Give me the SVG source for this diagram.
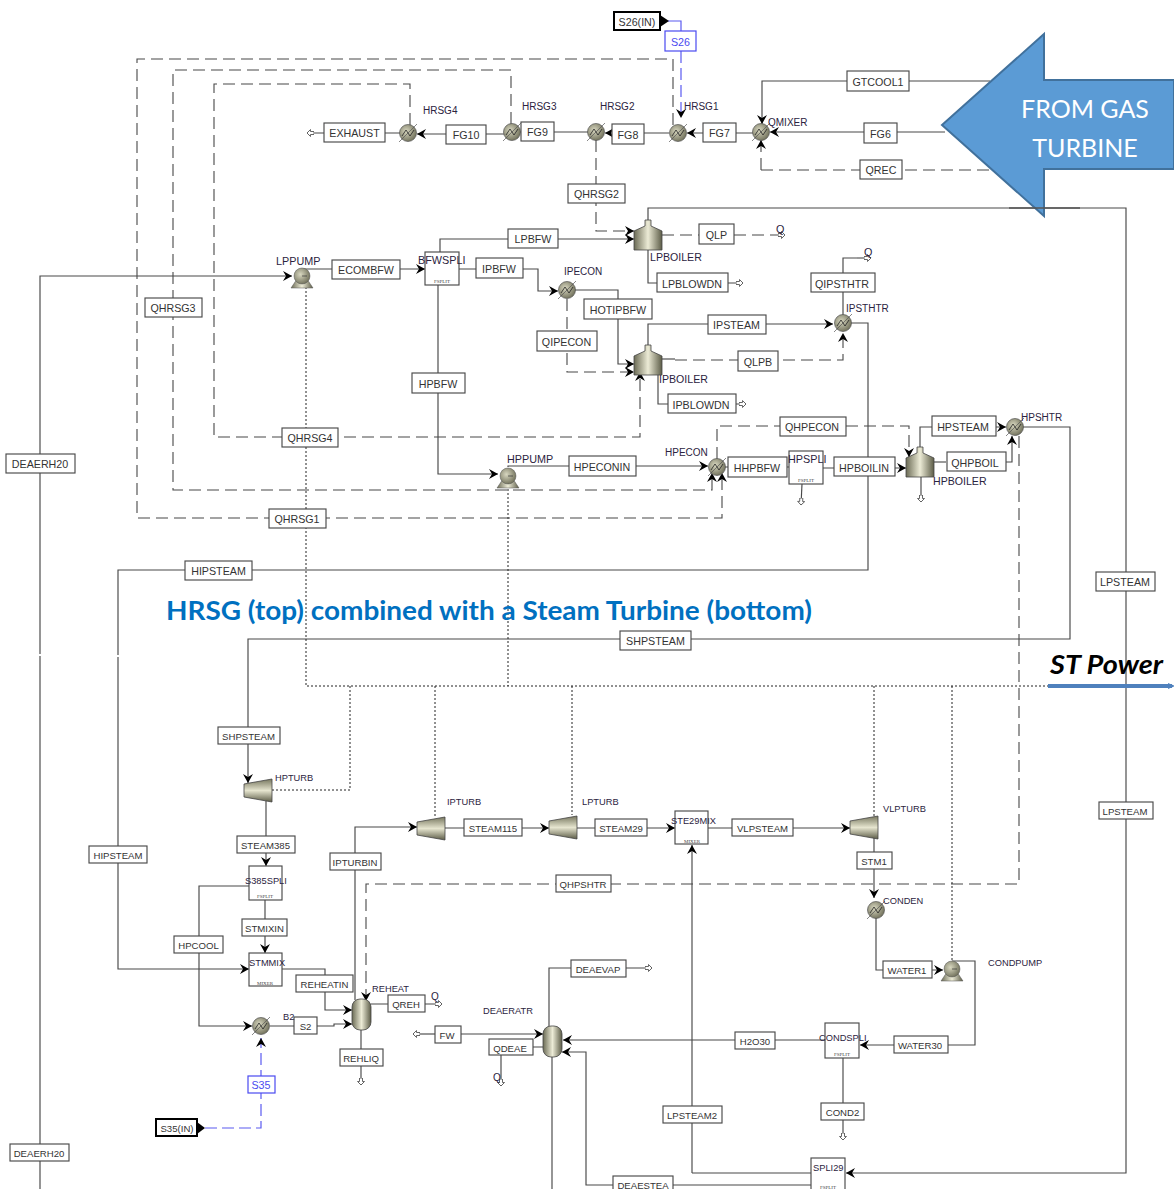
<svg xmlns="http://www.w3.org/2000/svg" width="1174" height="1189" viewBox="0 0 1174 1189">
<style>
.s{fill:none;stroke:#484848;stroke-width:1.15}
.h{fill:none;stroke:#484848;stroke-width:1.1;stroke-dasharray:12 6}
.w{fill:none;stroke:#222;stroke-width:1;stroke-dasharray:2 2}
.bl{fill:none;stroke:#5a5af0;stroke-width:1.2;stroke-dasharray:12 5}
.b{fill:#fff;stroke:#4a4a4a;stroke-width:1.15}
.k{fill:#fff;stroke:#000;stroke-width:2}
.bb{fill:#fff;stroke:#4a4af0;stroke-width:1.2}
.t{font:10.7px "Liberation Sans",Arial,sans-serif;fill:#333;text-anchor:middle}
.z{font-size:9.6px}
.tb{font:10.7px "Liberation Sans",Arial,sans-serif;fill:#4a4af0;text-anchor:middle}
.l{font:10.8px "Liberation Sans",Arial,sans-serif;fill:#2b2340}
.sm{font:10px "Liberation Sans",Arial,sans-serif;fill:#2b2340}
.m{font-size:10.6px}
.y{font-size:9.3px}
.f{font:5px "Liberation Serif",serif;fill:#444;text-anchor:middle}
.big{font:25px Lato,'Open Sans',sans-serif;fill:#fff;text-anchor:middle}
</style>
<defs>
<linearGradient id="g" x1="0" x2="1" y1="0" y2="0"><stop offset="0" stop-color="#6b6b55"/><stop offset=".5" stop-color="#ecebd6"/><stop offset="1" stop-color="#5d5d48"/></linearGradient>
<linearGradient id="gv" x1="0" x2="0" y1="0" y2="1"><stop offset="0" stop-color="#77775f"/><stop offset=".5" stop-color="#e6e5cf"/><stop offset="1" stop-color="#5d5d48"/></linearGradient>
<radialGradient id="gr" cx=".4" cy=".4" r=".7"><stop offset="0" stop-color="#d8d7c0"/><stop offset="1" stop-color="#666650"/></radialGradient>
<marker id="ar" markerUnits="userSpaceOnUse" markerWidth="12" markerHeight="12" refX="9" refY="5" orient="auto"><path d="M0,0 L9,5 L0,10 L3,5 Z" fill="#000"/></marker>
<marker id="out" markerUnits="userSpaceOnUse" markerWidth="10" markerHeight="10" refX="7" refY="4" orient="auto"><path d="M0,2.5 H3.5 V.5 L7,4 L3.5,7.5 V5.5 H0 Z" fill="#fff" stroke="#555" stroke-width=".9"/></marker>
<marker id="bar" markerUnits="userSpaceOnUse" markerWidth="8" markerHeight="8" refX="4" refY="4" orient="auto"><path d="M0,1 L7,4 L0,7 Z" fill="#4f81bd"/></marker>
<g id="heater"><circle r="8.5" fill="url(#gr)" stroke="#555" stroke-width=".7"/><path d="M-9,9 L9,-9" stroke="#555" stroke-width=".7"/><path d="M-6,3 L-2,-3 L2,3 L6,-3" fill="none" stroke="#222" stroke-width=".8"/></g>
<g id="pump"><path d="M-11,11 L11,11 L5,2 H-5 Z" fill="url(#g)" stroke="#555" stroke-width=".5"/><circle r="8" cy="-1" fill="url(#gr)" stroke="#555" stroke-width=".5"/><path d="M0,-1 H5" stroke="#333" stroke-width=".7"/></g>
<g id="boiler"><path d="M-14,27 V8 L-3,3 V-3 H3 V3 L14,8 V27 Z" fill="url(#g)" stroke="#444" stroke-width=".8"/></g>
<g id="turbine"><path d="M0,5 L28,0 V23 L0,18 Z" fill="url(#gv)" stroke="#444" stroke-width=".8"/></g>
<g id="flash"><rect x="-9.500" width="19" height="31" rx="8" fill="url(#g)" stroke="#444" stroke-width=".8"/></g>
</defs>
<rect width="1174" height="1189" fill="#fff"/>
<g id="connectors">
<path class="bl" d="M681,51 V118" marker-end="url(#ar)"/>
<path d="M668,21 H681 V31" fill="none" stroke="#5a5af0" stroke-width="1.200"/>
<path class="h" d="M673,125 V59 H137 V518 H722 V473" marker-end="url(#ar)"/>
<path class="h" d="M511,124 V70 H173 V490 H712 V473" marker-end="url(#ar)"/>
<path class="h" d="M410,125 V84 H214 V437 H640 V372" marker-end="url(#ar)"/>
<path class="h" d="M596,140 V231 H634" marker-end="url(#ar)"/>
<path class="h" d="M761,170 H990 M761,170 V140" marker-end="url(#ar)"/>
<path class="s" d="M990,81 H762 V124" marker-end="url(#ar)"/>
<path class="s" d="M945,132 H770" marker-end="url(#ar)"/>
<path class="s" d="M753,133 H687" marker-end="url(#ar)"/>
<path class="s" d="M669,133 H605" marker-end="url(#ar)"/>
<path class="s" d="M588,132 H520"/>
<path class="s" d="M504,134 H417" marker-end="url(#ar)"/>
<path class="s" d="M400,133 H307" marker-end="url(#out)"/>
<path class="s" d="M440,252 V239 H634" marker-end="url(#ar)"/>
<path class="s" d="M648,220 V208 H1126 V1173 H846" marker-end="url(#ar)"/>
<path class="h" d="M662,235 H785" marker-end="url(#out)"/>
<path class="s" d="M648,247 V283 H743" marker-end="url(#out)"/>
<path class="s" d="M40,1189 V656 M40,654 V276 H292" marker-end="url(#ar)"/>
<path class="s" d="M303,269 H332 M400,269 H425" marker-end="url(#ar)"/>
<path class="s" d="M459,269 H538 V291 H558" marker-end="url(#ar)"/>
<path class="s" d="M575,290 H618 V364 H634" marker-end="url(#ar)"/>
<path class="h" d="M567,299 V372 H634" marker-end="url(#ar)"/>
<path class="s" d="M648,345 V324 H833" marker-end="url(#ar)"/>
<path class="h" d="M675,360 H843 V333" marker-end="url(#ar)"/>
<path class="s" d="M662,359 H675"/>
<path class="s" d="M658,372 V404 H746" marker-end="url(#out)"/>
<path class="s" d="M851,323 H868 V570 H118 V655 M118,657 V969 H249" marker-end="url(#ar)"/>
<path class="s" d="M843,315 V258 H857"/>
<path class="h" d="M857,258 H871" marker-end="url(#out)"/>
<path class="s" d="M438,285 V474 H498" marker-end="url(#ar)"/>
<path class="s" d="M508,467 V466 H708" marker-end="url(#ar)"/>
<path class="s" d="M725,467 H789 M823,468 H906" marker-end="url(#ar)"/>
<path class="s" d="M802,484 L801,505" marker-end="url(#out)"/>
<path class="s" d="M921,477 V502" marker-end="url(#out)"/>
<path class="s" d="M920,448 V427 H1006" marker-end="url(#ar)"/>
<path class="h" d="M934,462 H947"/>
<path class="s" d="M1006,462 H1012 V436" marker-end="url(#ar)"/>
<path class="h" d="M717,459 V426 H909 V457" marker-end="url(#ar)"/>
<path class="s" d="M1023,427 H1070 V639 H248 V783" marker-end="url(#ar)"/>
<path class="h" d="M1019,436 V884 H366 V1001" marker-end="url(#ar)"/>
<path class="w" d="M306,287 V686 H1048 M272,790 H350 V686 M435,686 V817 M572,686 V815 M508,489 V686 M874,686 V816 M952,686 V961"/>
<path class="s" d="M266,801 V866" marker-end="url(#ar)"/>
<path class="s" d="M249,886 H199 V1026 H252" marker-end="url(#ar)"/>
<path class="s" d="M265,900 V953" marker-end="url(#ar)"/>
<path class="s" d="M282,969 H325 V1010 H352" marker-end="url(#ar)"/>
<path class="s" d="M270,1026 H334 V1024 H352" marker-end="url(#ar)"/>
<path class="s" d="M355,1000 V827 H417" marker-end="url(#ar)"/>
<path class="s" d="M371,1004 H442" marker-end="url(#out)"/>
<path class="s" d="M361,1030 V1085" marker-end="url(#out)"/>
<path class="bl" d="M205,1128 H261 V1038" marker-end="url(#ar)"/>
<path class="s" d="M445,828 H549" marker-end="url(#ar)"/>
<path class="s" d="M577,828 H675" marker-end="url(#ar)"/>
<path class="s" d="M708,828 H850" marker-end="url(#ar)"/>
<path class="s" d="M874,838 V898" marker-end="url(#ar)"/>
<path class="s" d="M876,918 V970 H943" marker-end="url(#ar)"/>
<path class="s" d="M952,961 H975 V1045 H860" marker-end="url(#ar)"/>
<path class="s" d="M825,1040 H563" marker-end="url(#ar)"/>
<path class="s" d="M692,1173 V845" marker-end="url(#ar)"/>
<path class="s" d="M692,1173 H811"/>
<path class="s" d="M811,1185 H586 V1052 H562" marker-end="url(#ar)"/>
<path class="s" d="M552,1056 V1189"/>
<path class="s" d="M549,1026 V968 H652" marker-end="url(#out)"/>
<path class="s" d="M435,1034 H413" marker-end="url(#out)"/>
<path class="s" d="M461,1034 H543" marker-end="url(#ar)"/>
<path class="s" d="M533,1047 H543 M501,1055 V1086" marker-end="url(#out)"/>
<path class="s" d="M843,1058 V1140" marker-end="url(#out)"/>
</g>
<g id="n-S26IN"><rect class="k" x="614" y="12" width="46" height="18"/><path d="M660,15 L669,21 L660,27 Z"/><text class="t" x="637" y="26">S26(IN)</text></g>
<g id="n-S26"><rect class="bb" x="665" y="31" width="31" height="20"/><text class="tb" x="680.500" y="46">S26</text></g>
<g id="n-EXHAUST"><rect class="b" x="324" y="123" width="61" height="19"/><text class="t" x="354.500" y="137">EXHAUST</text></g>
<g id="n-FG10"><rect class="b" x="446" y="125" width="40" height="19"/><text class="t" x="466" y="139">FG10</text></g>
<g id="n-FG9"><rect class="b" x="521" y="122" width="33" height="19"/><text class="t" x="537.500" y="136">FG9</text></g>
<g id="n-FG8"><rect class="b" x="612" y="124" width="32" height="20"/><text class="t" x="628" y="139">FG8</text></g>
<g id="n-FG7"><rect class="b" x="703" y="123" width="33" height="19"/><text class="t" x="719.500" y="137">FG7</text></g>
<g id="n-FG6"><rect class="b" x="864" y="123" width="33" height="20"/><text class="t" x="880.500" y="138">FG6</text></g>
<g id="n-GTCOOL1"><rect class="b" x="847" y="71" width="62" height="20"/><text class="t" x="878" y="86">GTCOOL1</text></g>
<g id="n-QREC"><rect class="b" x="860" y="160" width="42" height="19"/><text class="t" x="881" y="174">QREC</text></g>
<g id="n-QHRSG2"><rect class="b" x="568" y="184" width="57" height="19"/><text class="t" x="596.500" y="198">QHRSG2</text></g>
<g id="n-LPBFW"><rect class="b" x="508" y="229" width="50" height="19"/><text class="t" x="533" y="243">LPBFW</text></g>
<g id="n-QLP"><rect class="b" x="699" y="224" width="35" height="20"/><text class="t" x="716.500" y="239">QLP</text></g>
<g id="n-LPBLOWDN"><rect class="b" x="657" y="273" width="71" height="19"/><text class="t" x="692" y="288">LPBLOWDN</text></g>
<g id="n-ECOMBFW"><rect class="b" x="332" y="260" width="68" height="19"/><text class="t" x="366" y="274">ECOMBFW</text></g>
<g id="n-IPBFW"><rect class="b" x="476" y="258" width="47" height="20"/><text class="t" x="499" y="273">IPBFW</text></g>
<g id="n-HOTIPBFW"><rect class="b" x="584" y="299" width="68" height="20"/><text class="t" x="618" y="314">HOTIPBFW</text></g>
<g id="n-QIPECON"><rect class="b" x="537" y="331" width="60" height="20"/><text class="t" x="566.500" y="346">QIPECON</text></g>
<g id="n-IPSTEAM"><rect class="b" x="708" y="315" width="58" height="19"/><text class="t" x="736.500" y="329">IPSTEAM</text></g>
<g id="n-QLPB"><rect class="b" x="738" y="351" width="40" height="20"/><text class="t" x="758" y="366">QLPB</text></g>
<g id="n-IPBLOWDN"><rect class="b" x="668" y="394" width="68" height="19"/><text class="t" x="701" y="409">IPBLOWDN</text></g>
<g id="n-QIPSTHTR"><rect class="b" x="811" y="273" width="64" height="19"/><text class="t" x="842" y="288">QIPSTHTR</text></g>
<g id="n-QHPECON"><rect class="b" x="780" y="417" width="66" height="19"/><text class="t" x="812" y="431">QHPECON</text></g>
<g id="n-HPSTEAM"><rect class="b" x="932" y="416" width="64" height="20"/><text class="t" x="963" y="431">HPSTEAM</text></g>
<g id="n-QHPBOIL"><rect class="b" x="947" y="452" width="59" height="19"/><text class="t" x="975" y="467">QHPBOIL</text></g>
<g id="n-HHPBFW"><rect class="b" x="728" y="457" width="59" height="20"/><text class="t" x="757" y="472">HHPBFW</text></g>
<g id="n-HPBOILIN"><rect class="b" x="834" y="457" width="61" height="19"/><text class="t" x="864" y="472">HPBOILIN</text></g>
<g id="n-HPBFW"><rect class="b" x="412" y="373" width="53" height="20"/><text class="t" x="438" y="388">HPBFW</text></g>
<g id="n-HPECONIN"><rect class="b" x="569" y="456" width="67" height="20"/><text class="t" x="602" y="471">HPECONIN</text></g>
<g id="n-QHRSG3"><rect class="b" x="145" y="298" width="57" height="19"/><text class="t" x="173" y="312">QHRSG3</text></g>
<g id="n-QHRSG4"><rect class="b" x="282" y="428" width="56" height="19"/><text class="t" x="310" y="442">QHRSG4</text></g>
<g id="n-QHRSG1"><rect class="b" x="269" y="509" width="57" height="19"/><text class="t" x="297" y="523">QHRSG1</text></g>
<g id="n-HIPSTEAM"><rect class="b" x="185" y="561" width="67" height="19"/><text class="t" x="218.500" y="575">HIPSTEAM</text></g>
<g id="n-DEAERH20"><rect class="b" x="6" y="454" width="69" height="19"/><text class="t" x="40" y="468">DEAERH20</text></g>
<g id="n-LPSTEAM"><rect class="b" x="1096" y="572" width="59" height="19"/><text class="t" x="1125" y="586">LPSTEAM</text></g>
<g id="n-SHPSTEAM"><rect class="b" x="620" y="631" width="71" height="19"/><text class="t" x="655.500" y="645">SHPSTEAM</text></g>
<g id="n-LPSTEAM3"><rect class="b" x="1099" y="802" width="54" height="17"/><text class="t z" x="1125" y="815">LPSTEAM</text></g>
<g id="n-SHPSTEAM2"><rect class="b" x="218" y="727" width="62" height="17"/><text class="t z" x="248.500" y="740">SHPSTEAM</text></g>
<g id="n-HIPSTEAM2"><rect class="b" x="89" y="846" width="58" height="17"/><text class="t z" x="118" y="859">HIPSTEAM</text></g>
<g id="n-STEAM385"><rect class="b" x="237" y="836" width="58" height="17"/><text class="t z" x="265.500" y="849">STEAM385</text></g>
<g id="n-STMIXIN"><rect class="b" x="242" y="919" width="45" height="17"/><text class="t z" x="264.500" y="932">STMIXIN</text></g>
<g id="n-HPCOOL"><rect class="b" x="174" y="936" width="49" height="17"/><text class="t z" x="198.500" y="949">HPCOOL</text></g>
<g id="n-REHEATIN"><rect class="b" x="296" y="975" width="57" height="17"/><text class="t z" x="324.500" y="988">REHEATIN</text></g>
<g id="n-S2"><rect class="b" x="294" y="1017" width="23" height="17"/><text class="t z" x="305.500" y="1030">S2</text></g>
<g id="n-QREH"><rect class="b" x="388" y="995" width="37" height="17"/><text class="t z" x="406" y="1008">QREH</text></g>
<g id="n-REHLIQ"><rect class="b" x="340" y="1049" width="43" height="17"/><text class="t z" x="361" y="1062">REHLIQ</text></g>
<g id="n-FW"><rect class="b" x="435" y="1026" width="26" height="17"/><text class="t z" x="447" y="1039">FW</text></g>
<g id="n-QDEAE"><rect class="b" x="489" y="1039" width="44" height="16"/><text class="t z" x="510" y="1052">QDEAE</text></g>
<g id="n-DEAEVAP"><rect class="b" x="571" y="960" width="55" height="17"/><text class="t z" x="598" y="973">DEAEVAP</text></g>
<g id="n-H2O30"><rect class="b" x="735" y="1032" width="40" height="17"/><text class="t z" x="755" y="1045">H2O30</text></g>
<g id="n-WATER30"><rect class="b" x="894" y="1036" width="54" height="17"/><text class="t z" x="920" y="1049">WATER30</text></g>
<g id="n-COND2"><rect class="b" x="821" y="1103" width="43" height="17"/><text class="t z" x="842.500" y="1116">COND2</text></g>
<g id="n-LPSTEAM2"><rect class="b" x="663" y="1106" width="59" height="17"/><text class="t z" x="692" y="1119">LPSTEAM2</text></g>
<g id="n-DEAESTEA"><rect class="b" x="613" y="1176" width="60" height="20"/><text class="t z" x="643" y="1189">DEAESTEA</text></g>
<g id="n-STEAM115"><rect class="b" x="464" y="819" width="58" height="17"/><text class="t z" x="493" y="832">STEAM115</text></g>
<g id="n-STEAM29"><rect class="b" x="595" y="819" width="52" height="17"/><text class="t z" x="621" y="832">STEAM29</text></g>
<g id="n-VLPSTEAM"><rect class="b" x="732" y="819" width="61" height="17"/><text class="t z" x="762.500" y="832">VLPSTEAM</text></g>
<g id="n-STM1"><rect class="b" x="857" y="852" width="35" height="17"/><text class="t z" x="874" y="865">STM1</text></g>
<g id="n-WATER1"><rect class="b" x="883" y="961" width="49" height="17"/><text class="t z" x="907" y="974">WATER1</text></g>
<g id="n-QHPSHTR"><rect class="b" x="556" y="875" width="55" height="17"/><text class="t z" x="583" y="888">QHPSHTR</text></g>
<g id="n-IPTURBIN"><rect class="b" x="330" y="853" width="51" height="17"/><text class="t z" x="355" y="866">IPTURBIN</text></g>
<g id="n-DEAERH202"><rect class="b" x="10" y="1144" width="59" height="17"/><text class="t z" x="39" y="1157">DEAERH20</text></g>
<g id="n-S35"><rect class="bb" x="248" y="1076" width="27" height="17"/><text class="tb z" x="261" y="1089">S35</text></g>
<g id="n-S35IN"><rect class="k" x="156" y="1119" width="41" height="17"/><path d="M197,1122 L205,1128 L197,1134 Z"/><text class="t z" x="177" y="1132">S35(IN)</text></g>
<g id="n-BFWSPLI"><rect class="b" x="425" y="252" width="34" height="33"/><text class="f" x="442" y="283">FSPLIT</text><text class="l" x="418" y="264">BFWSPLI</text></g>
<g id="n-HPSPLI"><rect class="b" x="789" y="451" width="34" height="33"/><text class="f" x="806" y="482">FSPLIT</text><text class="l" x="788" y="463">HPSPLI</text></g>
<g id="n-S385SPLI"><rect class="b" x="249" y="866" width="33" height="34"/><text class="f" x="265" y="898">FSPLIT</text><text class="sm y" x="245" y="884">S385SPLI</text></g>
<g id="n-STMMIX"><rect class="b" x="249" y="953" width="33" height="33"/><text class="f" x="265" y="985">MIXER</text><text class="sm y" x="249" y="966">STMMIX</text></g>
<g id="n-STE29MIX"><rect class="b" x="675" y="811" width="33" height="33"/><text class="f" x="692" y="843">MIXER</text><text class="sm y" x="671" y="824">STE29MIX</text></g>
<g id="n-CONDSPLI"><rect class="b" x="825" y="1023" width="34" height="35"/><text class="f" x="842" y="1056">FSPLIT</text><text class="sm y" x="819" y="1041">CONDSPLI</text></g>
<g id="n-SPLI29"><rect class="b" x="811" y="1158" width="34" height="40"/><text class="f" x="828" y="1189">FSPLIT</text><text class="sm y" x="813" y="1171">SPLI29</text></g>
<g id="n-HRSG4"><use href="#heater" x="408" y="133"/><text class="sm" x="423" y="114">HRSG4</text></g>
<g id="n-HRSG3"><use href="#heater" x="512" y="132"/><text class="sm" x="522" y="110">HRSG3</text></g>
<g id="n-HRSG2"><use href="#heater" x="596" y="132"/><text class="sm" x="600" y="110">HRSG2</text></g>
<g id="n-HRSG1"><use href="#heater" x="678" y="133"/><text class="sm" x="684" y="110">HRSG1</text></g>
<g id="n-QMIXER"><use href="#heater" x="761" y="132"/><text class="sm" x="768" y="126">QMIXER</text></g>
<g id="n-IPECON"><use href="#heater" x="567" y="290"/><text class="sm" x="564" y="275">IPECON</text></g>
<g id="n-IPSTHTR"><use href="#heater" x="843" y="323"/><text class="sm" x="846" y="312">IPSTHTR</text></g>
<g id="n-HPECON"><use href="#heater" x="717" y="467"/><text class="sm" x="665" y="456">HPECON</text></g>
<g id="n-HPSHTR"><use href="#heater" x="1015" y="427"/><text class="sm" x="1021" y="421">HPSHTR</text></g>
<g id="n-B2"><use href="#heater" x="261" y="1026"/><text class="sm y" x="283" y="1020">B2</text></g>
<g id="n-CONDEN"><use href="#heater" x="876" y="910"/><text class="sm y" x="883" y="904">CONDEN</text></g>
<g id="n-LPPUMP"><use href="#pump" x="302" y="277"/><text class="l" x="276" y="265">LPPUMP</text></g>
<g id="n-HPPUMP"><use href="#pump" x="508" y="477"/><text class="l" x="507" y="463">HPPUMP</text></g>
<g id="n-CONDPUMP"><use href="#pump" x="952" y="970"/><text class="sm y" x="988" y="966">CONDPUMP</text></g>
<g id="n-LPBOILER"><use href="#boiler" x="648" y="223"/><text class="sm m" x="650" y="261">LPBOILER</text></g>
<g id="n-IPBOILER"><use href="#boiler" x="648" y="348"/><text class="sm m" x="659" y="383">IPBOILER</text></g>
<g id="n-HPBOILER"><use href="#boiler" x="920" y="450"/><text class="sm m" x="933" y="485">HPBOILER</text></g>
<g id="n-HPTURB"><use href="#turbine" x="244" y="779"/><text class="sm y" x="275" y="781">HPTURB</text></g>
<g id="n-IPTURB"><use href="#turbine" x="417" y="817"/><text class="sm y" x="447" y="805">IPTURB</text></g>
<g id="n-LPTURB"><use href="#turbine" x="549" y="816"/><text class="sm y" x="582" y="805">LPTURB</text></g>
<g id="n-VLPTURB"><use href="#turbine" x="850" y="816"/><text class="sm y" x="883" y="812">VLPTURB</text></g>
<g id="n-REHEAT"><use href="#flash" x="361.500" y="999"/><text class="sm y" x="372" y="992">REHEAT</text></g>
<g id="n-DEAERATR"><use href="#flash" x="552.500" y="1026"/><text class="sm y" x="483" y="1014">DEAERATR</text></g>
<g id="q-labels"><text class="l" x="776" y="233">Q</text><text class="l" x="864" y="256">Q</text><text class="sm" x="431" y="1000">Q</text><text class="sm" x="493" y="1081">Q</text></g>
<g id="gas-turbine-arrow"><path d="M942,125 L1044,34 V80 H1174 V169 H1044 V216 Z" fill="#5b9bd5" stroke="#41719c" stroke-width="2"/><text class="big" x="1085" y="118">FROM GAS</text><text class="big" x="1085" y="157">TURBINE</text><path d="M1009,208 H1080" stroke="#555" stroke-width="1.300"/></g>
<text id="title" x="166" y="620" textLength="646" lengthAdjust="spacingAndGlyphs" style="font:bold 26px Lato,'Open Sans',sans-serif;fill:#0070c0">HRSG (top) combined with a Steam Turbine (bottom)</text>
<g id="st-power"><text x="1050" y="674" textLength="113" lengthAdjust="spacingAndGlyphs" style="font:italic bold 27px Lato,'Open Sans',sans-serif;fill:#000">ST Power</text><path d="M1048,686 H1172" stroke="#4f81bd" stroke-width="4" marker-end="url(#bar)"/></g>
</svg>
